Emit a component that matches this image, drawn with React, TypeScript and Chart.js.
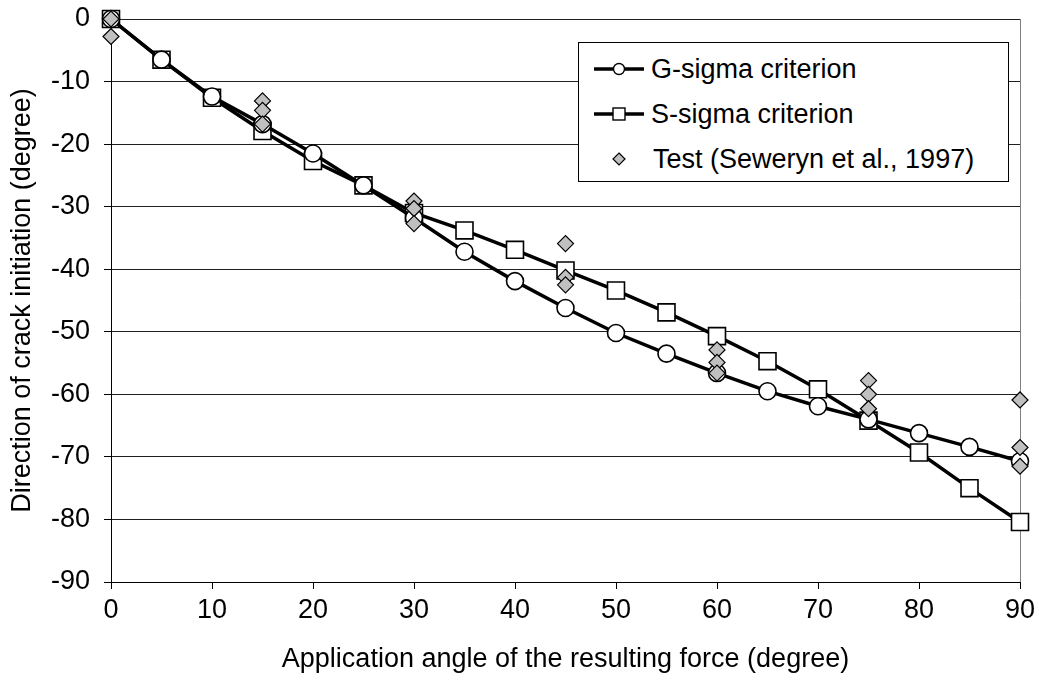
import React, { useEffect, useRef } from "react";
import { Chart, registerables } from "chart.js";

Chart.register(...registerables);

const angles = [0, 5, 10, 15, 20, 25, 30, 35, 40, 45, 50, 55, 60, 65, 70, 75, 80, 85, 90];
const gSigma = [0, -6.5, -12.4, -16.8, -21.5, -26.6, -31.8, -37.2, -41.9, -46.2, -50.2, -53.5, -56.6, -59.5, -61.9, -64.0, -66.2, -68.4, -70.7];
const sSigma = [0, -6.5, -12.6, -17.9, -22.7, -26.6, -31.0, -33.8, -36.9, -40.2, -43.4, -46.9, -50.7, -54.7, -59.2, -64.2, -69.3, -75.0, -80.4];
const testAngles = [0, 0, 15, 15, 15, 30, 30, 30, 45, 45, 45, 60, 60, 60, 75, 75, 75, 90, 90, 90];
const testDirections = [0, -2.8, -13.1, -14.6, -16.8, -29.1, -30.3, -32.7, -35.9, -41.3, -42.5, -52.9, -54.9, -56.6, -57.8, -60.0, -62.3, -60.9, -68.5, -71.5];

const seriesLabels = ["G-sigma criterion", "S-sigma criterion", "Test (Seweryn et al., 1997)"];
const xTitle = "Application angle of the resulting force (degree)";
const yTitle = "Direction of crack initiation (degree)";

const FONT = "'Liberation Sans', Arial, sans-serif";
const FS = 27;

function LegendSymbol({ kind }: { kind: number }) {
  return (
    <svg width={52} height={22} style={{ display: "block" }}>
      {kind !== 2 && <line x1={1} y1={11} x2={51} y2={11} stroke="#000" strokeWidth={3.5} />}
      {kind === 0 && <circle cx={26} cy={11} r={5.5} fill="#fff" stroke="#000" strokeWidth={1.4} />}
      {kind === 1 && <rect x={20} y={5} width={12} height={12} fill="#fff" stroke="#000" strokeWidth={1.4} />}
      {kind === 2 && <polygon points="26,5 32,11 26,17 20,11" fill="#c0c0c0" stroke="#000" strokeWidth={1.2} />}
    </svg>
  );
}

export default function App() {
  const ref = useRef<HTMLCanvasElement | null>(null);

  useEffect(() => {
    if (!ref.current) return;
    const chart = new Chart(ref.current, {
      type: "line",
      data: {
        datasets: [
          {
            label: seriesLabels[2],
            data: testAngles.map((x, i) => ({ x, y: testDirections[i] })),
            showLine: false,
            pointStyle: "rectRot",
            pointRadius: 8,
            pointBackgroundColor: "#c0c0c0",
            pointBorderColor: "#000",
            pointBorderWidth: 1.2,
            borderColor: "#000",
            clip: false,
            order: 0,
          },
          {
            label: seriesLabels[0],
            data: angles.map((x, i) => ({ x, y: gSigma[i] })),
            borderColor: "#000",
            borderWidth: 3.5,
            pointStyle: "circle",
            pointRadius: 8.5,
            pointBackgroundColor: "#fff",
            pointBorderColor: "#000",
            pointBorderWidth: 1.6,
            tension: 0,
            clip: false,
            order: 1,
          },
          {
            label: seriesLabels[1],
            data: angles.map((x, i) => ({ x, y: sSigma[i] })),
            borderColor: "#000",
            borderWidth: 3.5,
            pointStyle: "rect",
            pointRadius: 12,
            pointBackgroundColor: "#fff",
            pointBorderColor: "#000",
            pointBorderWidth: 1.6,
            tension: 0,
            clip: false,
            order: 2,
          },
        ],
      },
      options: {
        animation: false,
        responsive: false,
        maintainAspectRatio: false,
        layout: { padding: { left: 0, top: 19, right: 19, bottom: 0 } },
        plugins: { legend: { display: false }, tooltip: { enabled: false } },
        scales: {
          x: {
            type: "linear",
            min: 0,
            max: 90,
            ticks: { stepSize: 10, color: "#000", font: { family: FONT, size: FS }, padding: 5, maxRotation: 0 },
            grid: {
              drawOnChartArea: true,
              color: (c: any) => (c.tick && c.tick.value === 90 ? "#808080" : "rgba(0,0,0,0)"),
              tickColor: "#000",
              tickLength: 7,
              lineWidth: 1,
            },
            border: { color: "#000", width: 1 },
            title: { display: true, text: xTitle, color: "#000", font: { family: FONT, size: FS }, padding: { top: 0, bottom: 11 } },
            afterFit: (s: any) => { s.height = 105; s.paddingLeft = 0; s.paddingRight = 0; },
          },
          y: {
            type: "linear",
            min: -90,
            max: 0,
            ticks: { stepSize: 10, color: "#000", font: { family: FONT, size: FS }, padding: 14 },
            grid: { color: "#202020", tickColor: "#000", tickLength: 7, lineWidth: 1 },
            border: { color: "#000", width: 1 },
            title: { display: true, text: yTitle, color: "#000", font: { family: FONT, size: FS }, padding: { top: 6, bottom: 0 } },
            afterFit: (s: any) => { s.width = 111; s.paddingTop = 0; s.paddingBottom = 0; },
          },
        },
      },
    });
    return () => chart.destroy();
  }, []);

  return (
    <div style={{ position: "fixed", left: 0, top: 0, width: 1039, height: 687, background: "#fff" }}>
      <canvas ref={ref} width={1039} height={687} style={{ position: "absolute", left: 0, top: 0 }} />
      <div
        style={{
          position: "absolute",
          left: 578,
          top: 42,
          width: 431,
          height: 140,
          border: "1px solid #000",
          background: "#fff",
          fontFamily: FONT,
          fontSize: FS,
          color: "#000",
          boxSizing: "border-box",
        }}
      >
        {seriesLabels.map((lab, i) => (
          <div key={lab} style={{ position: "absolute", left: 14, top: 10 + i * 45, height: 32, display: "flex", alignItems: "center", whiteSpace: "nowrap" }}>
            <LegendSymbol kind={i} />
            <span style={{ marginLeft: i === 2 ? 8 : 6, lineHeight: "32px" }}>{lab}</span>
          </div>
        ))}
      </div>
    </div>
  );
}
